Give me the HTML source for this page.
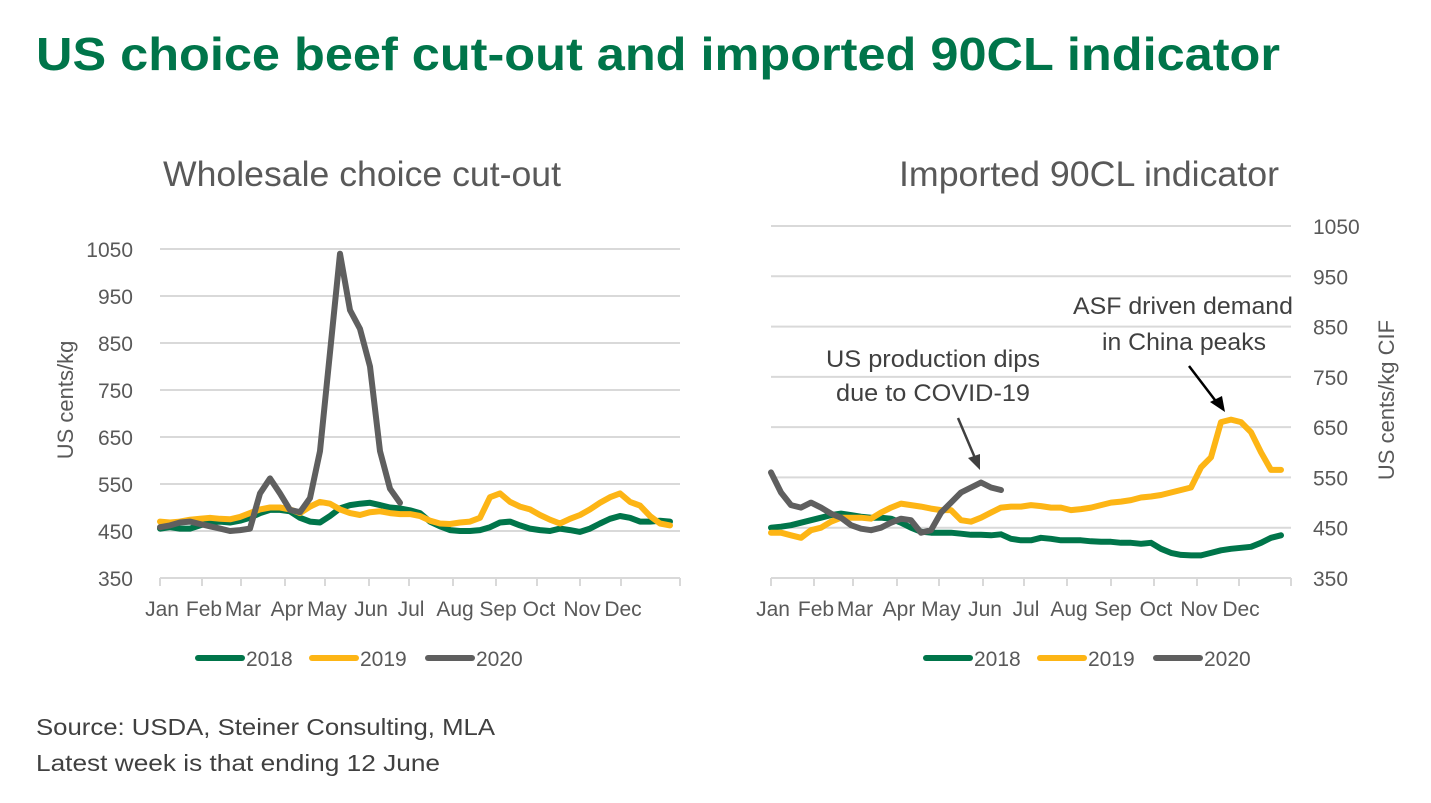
<!DOCTYPE html>
<html><head><meta charset="utf-8"><style>
body{margin:0;width:1431px;height:798px;background:#fff;overflow:hidden;font-family:"Liberation Sans",sans-serif}
</style></head><body>
<svg width="1431" height="798" xmlns="http://www.w3.org/2000/svg" font-family="Liberation Sans, sans-serif">
<text x="36" y="70" font-size="46" font-weight="bold" fill="#00754A" textLength="1244" lengthAdjust="spacingAndGlyphs">US choice beef cut-out and imported 90CL indicator</text>
<text x="163" y="186" font-size="35" fill="#595959" textLength="398" lengthAdjust="spacingAndGlyphs">Wholesale choice cut-out</text>
<text x="899" y="186" font-size="35" fill="#595959" textLength="380" lengthAdjust="spacingAndGlyphs">Imported 90CL indicator</text>
<text transform="translate(73,400) rotate(-90)" font-size="22" fill="#595959" text-anchor="middle">US cents/kg</text>
<text transform="translate(1394,400) rotate(-90)" font-size="22" fill="#595959" text-anchor="middle">US cents/kg CIF</text>
<g id="left"></g><g id="right"></g>
<text font-size="24" fill="#404040"><tspan x="826" y="367" textLength="214" lengthAdjust="spacingAndGlyphs">US production dips</tspan><tspan x="836" y="401" textLength="194" lengthAdjust="spacingAndGlyphs">due to COVID-19</tspan></text>
<line x1="958" y1="418" x2="975" y2="458" stroke="#404040" stroke-width="2.5"/>
<polygon points="980,470 968,458 980,454" fill="#404040"/>
<text font-size="24" fill="#404040"><tspan x="1073" y="314" textLength="220" lengthAdjust="spacingAndGlyphs">ASF driven demand</tspan><tspan x="1102" y="350" textLength="164" lengthAdjust="spacingAndGlyphs">in China peaks</tspan></text>
<line x1="1189" y1="366" x2="1218" y2="404" stroke="#000" stroke-width="2.5"/>
<polygon points="1225,412 1210,402 1222,396" fill="#000"/>
<text font-size="23" fill="#404040"><tspan x="36" y="735" textLength="459" lengthAdjust="spacingAndGlyphs">Source: USDA, Steiner Consulting, MLA</tspan><tspan x="36" y="771" textLength="404" lengthAdjust="spacingAndGlyphs">Latest week is that ending 12 June</tspan></text>
</svg>
<script>
const months=["Jan","Feb","Mar","Apr","May","Jun","Jul","Aug","Sep","Oct","Nov","Dec"];
const yTicks=[350,450,550,650,750,850,950,1050];
const seriesNames=["2018","2019","2020"];
const leftS2018=[455,458,455,455,462,468,470,468,472,478,488,495,495,492,478,470,468,482,498,505,508,510,505,500,498,494,488,470,460,452,450,450,452,458,468,470,462,455,452,450,455,452,448,455,466,476,482,478,470,470,472,470];
const leftS2019=[470,468,470,474,476,478,476,475,480,488,496,500,500,496,488,502,512,508,496,488,484,490,492,488,486,486,482,472,466,465,468,470,478,522,530,512,502,496,484,474,466,476,484,496,510,522,530,512,504,482,466,462];
const leftS2020=[458,462,468,470,465,460,455,450,452,455,530,562,530,495,490,520,620,830,1040,920,880,800,620,540,510];
const rightS2018=[450,452,455,460,465,470,475,478,475,472,470,470,468,460,450,442,440,440,440,438,436,436,435,437,428,425,425,430,428,425,425,425,423,422,422,420,420,418,420,408,400,396,395,395,400,405,408,410,412,420,430,435];
const rightS2019=[440,440,435,430,445,450,462,470,470,470,468,480,490,498,495,492,488,485,485,465,462,470,480,490,492,492,495,493,490,490,485,487,490,495,500,502,505,510,512,515,520,525,530,570,590,660,665,660,640,600,565,565];
const rightS2020=[560,520,495,490,500,490,478,470,455,448,445,450,460,468,465,440,445,480,500,520,530,540,530,525];
const colors=["#00754A","#FDB515","#5F5F5F"];
const NS="http://www.w3.org/2000/svg";
function mk(p,t,a){const e=document.createElementNS(NS,t);for(const k in a)e.setAttribute(k,a[k]);p.appendChild(e);return e;}
function chart(gid,x0,x1,yTop,yBot,monthX,labelX,series,pref){
 const g=document.getElementById(gid);
 const ys=v=>yBot-(v-350)/700*(yBot-yTop);
 const xs=i=>x0+i*(x1-x0)/52;
 yTicks.forEach(t=>{
  const l=mk(g,"line",{x1:x0,x2:x1,y1:ys(t),y2:ys(t),stroke:"#D9D9D9","stroke-width":2});
  
  
  const tx=mk(g,"text",{x:labelX,y:ys(t)+8,"font-size":21,fill:"#595959","text-anchor":gid=="left"?"end":"start"});
  tx.textContent=t;
  
  
 });
 monthX.forEach((mx,i)=>{
  const l=mk(g,"line",{x1:mx,x2:mx,y1:yBot,y2:yBot+8,stroke:"#D9D9D9","stroke-width":2});
  
  
  if(i<12){const t=mk(g,"text",{x:mx+2,y:yBot+38,"font-size":21,fill:"#595959","text-anchor":"middle"});t.textContent=months[i];
  
  }
 });
 const ax=mk(g,"line",{x1:x0,x2:x1,y1:yBot,y2:yBot,stroke:"#D9D9D9","stroke-width":2});
 
 
 series.forEach((s,k)=>{
  const d=s.map((v,i)=>(i?"L":"M")+xs(i).toFixed(1)+","+ys(v).toFixed(1)).join("");
  const p=mk(g,"path",{d:d,fill:"none",stroke:colors[k],"stroke-width":6,"stroke-linejoin":"round","stroke-linecap":"round"});
  
  
 });
 const lx=gid=="left"?198:926;
 const offs=[0,114,230];
 seriesNames.forEach((n,k)=>{
  const l=mk(g,"line",{x1:lx+offs[k],x2:lx+offs[k]+44,y1:658,y2:658,stroke:colors[k],"stroke-width":6,"stroke-linecap":"round"});
  
  
  const t=mk(g,"text",{x:lx+offs[k]+48,y:666,"font-size":21,fill:"#595959"});t.textContent=n;
  
  
 });
}
chart("left",160,680,249,578,[160,202,241,285,325,369,409,453,496,537,580,621,680],133,[leftS2018,leftS2019,leftS2020],"left");
chart("right",771,1291,226,578,[771,814,853,897,939,983,1024,1067,1111,1154,1197,1239,1291],1313,[rightS2018,rightS2019,rightS2020],"right");
</script>
</body></html>
